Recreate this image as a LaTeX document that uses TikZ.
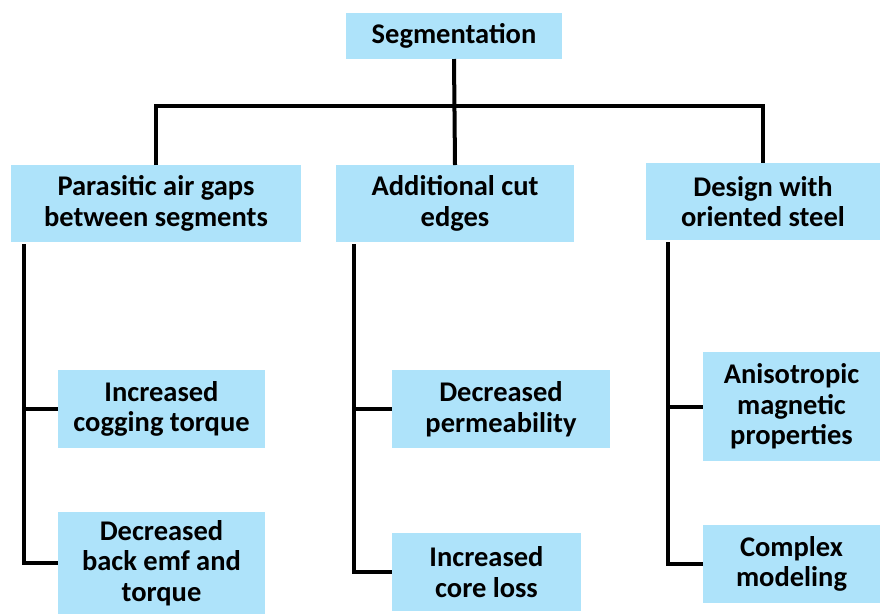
\documentclass[tikz,border=0pt]{standalone}
\usepackage{fontspec}
\setmainfont{Carlito}
\definecolor{boxblue}{RGB}{174,227,250}
\begin{document}
\begin{tikzpicture}[x=1pt,y=-1pt,
  box/.style={fill=boxblue, align=center, inner sep=0pt, outer sep=0pt,
    font=\fontsize{28.5}{30.5}\selectfont\bfseries},
  conn/.style={line width=4pt, draw=black}]
\useasboundingbox (0,0) rectangle (880,614);
% boxes
\node[box, minimum width=216, minimum height=46] (seg) at (454,36) {Segmentation};
\node[box, minimum width=290, minimum height=77] (par) at (156,203.5) {Parasitic air gaps\\between segments};
\node[box, minimum width=238, minimum height=77] (add) at (455,203.5) {Additional cut\\edges};
\node[box, minimum width=234, minimum height=77] (des) at (763,201.5) {Design with\\oriented steel};
\node[box, minimum width=207, minimum height=78] (inc) at (161.5,409) {Increased\\cogging torque};
\node[box, minimum width=207, minimum height=102] (dec) at (161.5,563) {Decreased\\back emf and\\torque};
\node[box, minimum width=218, minimum height=78] (dperm) at (501,409) {Decreased\\permeability};
\node[box, minimum width=189, minimum height=78] (core) at (486.5,572) {Increased\\core loss};
\node[box, minimum width=177, minimum height=109] (ani) at (791.5,406.5) {Anisotropic\\magnetic\\properties};
\node[box, minimum width=177, minimum height=78] (cpx) at (791.5,564) {Complex\\modeling};
% connectors
\coordinate (hb) at (454,106);
\draw[conn] (seg.south) -- (add.north);
\draw[conn] (par.north) |- (hb) -| (des.north);
\coordinate (l0) at (24,244);
\coordinate (m0) at (354,244);
\coordinate (r0) at (668,242);
\draw[conn] (l0) |- (inc.west);
\draw[conn] (l0) |- (dec.west);
\draw[conn] (m0) |- (dperm.west);
\draw[conn] (m0) |- (core.west);
\draw[conn] (r0) |- (ani.west);
\draw[conn] (r0) |- (cpx.west);
\end{tikzpicture}
\end{document}
